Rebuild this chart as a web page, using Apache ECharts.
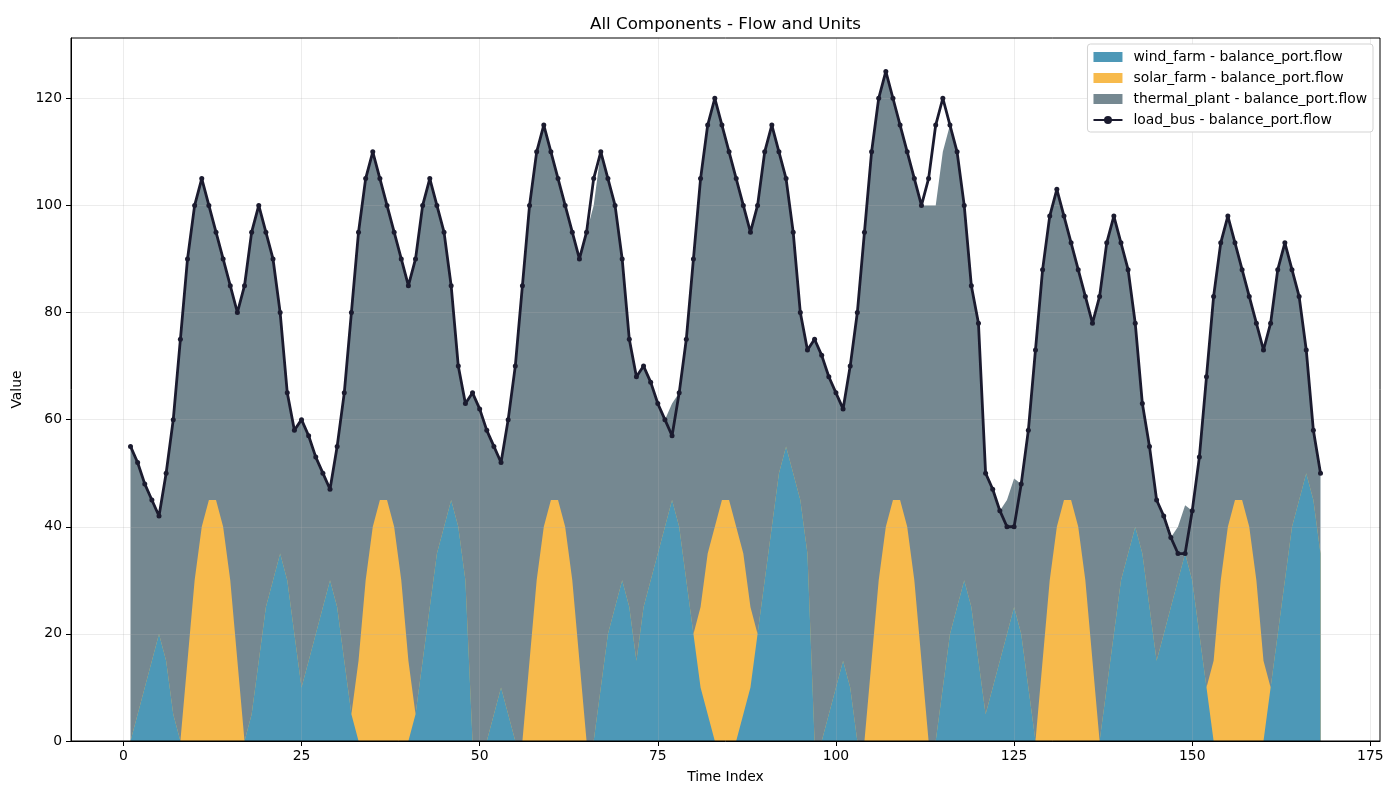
<!DOCTYPE html>
<html>
<head>
<meta charset="utf-8">
<title>All Components - Flow and Units</title>
<script src="https://cdn.jsdelivr.net/npm/echarts@6/dist/echarts.min.js"></script>
<style>
  html, body { margin: 0; padding: 0; background: #fff; }
  #chart { width: 1400px; height: 800px; }
</style>
</head>
<body>
<div id="chart"></div>
<script>
// hourly values, time index 1..168 (one row per day)
var wind = [
  0, 5, 10, 15, 20, 15, 5, 0, 0, 0, 0, 0, 0, 0, 0, 0, 0, 5, 15, 25, 30, 35, 30, 20,
  10, 15, 20, 25, 30, 25, 15, 5, 0, 0, 0, 0, 0, 0, 0, 0, 5, 15, 25, 35, 40, 45, 40, 30,
  0, 0, 0, 5, 10, 5, 0, 0, 0, 0, 0, 0, 0, 0, 0, 0, 0, 0, 10, 20, 25, 30, 25, 15,
  25, 30, 35, 40, 45, 40, 30, 20, 10, 5, 0, 0, 0, 0, 5, 10, 20, 30, 40, 50, 55, 50, 45, 35,
  0, 0, 5, 10, 15, 10, 0, 0, 0, 0, 0, 0, 0, 0, 0, 0, 0, 0, 10, 20, 25, 30, 25, 15,
  5, 10, 15, 20, 25, 20, 10, 0, 0, 0, 0, 0, 0, 0, 0, 0, 0, 10, 20, 30, 35, 40, 35, 25,
  15, 20, 25, 30, 35, 30, 20, 10, 0, 0, 0, 0, 0, 0, 0, 0, 10, 20, 30, 40, 45, 50, 45, 35
];
var solar = [
  0, 0, 0, 0, 0, 0, 0, 0, 15, 30, 40, 45, 45, 40, 30, 15, 0, 0, 0, 0, 0, 0, 0, 0,
  0, 0, 0, 0, 0, 0, 0, 0, 15, 30, 40, 45, 45, 40, 30, 15, 0, 0, 0, 0, 0, 0, 0, 0,
  0, 0, 0, 0, 0, 0, 0, 0, 15, 30, 40, 45, 45, 40, 30, 15, 0, 0, 0, 0, 0, 0, 0, 0,
  0, 0, 0, 0, 0, 0, 0, 0, 15, 30, 40, 45, 45, 40, 30, 15, 0, 0, 0, 0, 0, 0, 0, 0,
  0, 0, 0, 0, 0, 0, 0, 0, 15, 30, 40, 45, 45, 40, 30, 15, 0, 0, 0, 0, 0, 0, 0, 0,
  0, 0, 0, 0, 0, 0, 0, 0, 15, 30, 40, 45, 45, 40, 30, 15, 0, 0, 0, 0, 0, 0, 0, 0,
  0, 0, 0, 0, 0, 0, 0, 0, 15, 30, 40, 45, 45, 40, 30, 15, 0, 0, 0, 0, 0, 0, 0, 0
];
var thermal = [
  55, 47, 38, 30, 22, 35, 55, 75, 75, 70, 65, 55, 50, 50, 55, 65, 85, 90, 85, 70, 60, 45, 35, 38,
  50, 42, 33, 25, 17, 30, 50, 75, 80, 75, 70, 60, 55, 55, 60, 70, 85, 85, 80, 65, 55, 40, 30, 33,
  65, 62, 58, 50, 42, 55, 70, 85, 85, 80, 75, 65, 60, 60, 65, 75, 95, 100, 100, 85, 75, 60, 50, 53,
  45, 37, 28, 20, 18, 25, 45, 70, 80, 80, 80, 70, 65, 65, 65, 70, 80, 80, 75, 60, 50, 45, 35, 38,
  75, 72, 63, 55, 47, 60, 80, 95, 95, 90, 85, 75, 70, 70, 75, 85, 100, 100, 100, 95, 85, 70, 60, 63,
  45, 37, 28, 25, 24, 28, 48, 73, 73, 68, 63, 53, 48, 48, 53, 63, 83, 83, 78, 63, 53, 38, 28, 30,
  30, 22, 13, 10, 9, 13, 33, 58, 68, 63, 58, 48, 43, 43, 48, 58, 68, 68, 63, 48, 38, 23, 13, 15
];
var load = [
  55, 52, 48, 45, 42, 50, 60, 75, 90, 100, 105, 100, 95, 90, 85, 80, 85, 95, 100, 95, 90, 80, 65, 58,
  60, 57, 53, 50, 47, 55, 65, 80, 95, 105, 110, 105, 100, 95, 90, 85, 90, 100, 105, 100, 95, 85, 70, 63,
  65, 62, 58, 55, 52, 60, 70, 85, 100, 110, 115, 110, 105, 100, 95, 90, 95, 105, 110, 105, 100, 90, 75, 68,
  70, 67, 63, 60, 57, 65, 75, 90, 105, 115, 120, 115, 110, 105, 100, 95, 100, 110, 115, 110, 105, 95, 80, 73,
  75, 72, 68, 65, 62, 70, 80, 95, 110, 120, 125, 120, 115, 110, 105, 100, 105, 115, 120, 115, 110, 100, 85, 78,
  50, 47, 43, 40, 40, 48, 58, 73, 88, 98, 103, 98, 93, 88, 83, 78, 83, 93, 98, 93, 88, 78, 63, 55,
  45, 42, 38, 35, 35, 43, 53, 68, 83, 93, 98, 93, 88, 83, 78, 73, 78, 88, 93, 88, 83, 73, 58, 50
];
var xTicks = [0, 25, 50, 75, 100, 125, 150, 175];
var yTicks = [0, 20, 40, 60, 80, 100, 120];
var names = [
  'wind_farm - balance_port.flow',
  'solar_farm - balance_port.flow',
  'thermal_plant - balance_port.flow',
  'load_bus - balance_port.flow'
];
var colors = ['#4D98B7', '#F7BA4C', '#758891', '#1B1B2F'];

var font = 'DejaVu Sans';

function withIndex(vals) {
  return vals.map(function (v, i) { return [i + 1, v]; });
}

// stacked tops (wind, wind+solar, wind+solar+thermal); each layer is filled down to 0
// and painted over the one above it, which gives the stacked-area look
var layers = [wind, solar, thermal];
var tops = [];
var running = wind.map(function () { return 0; });
layers.forEach(function (vals) {
  running = running.map(function (s, i) { return s + vals[i]; });
  tops.push(running);
});

function areaSeries(k) {
  return {
    name: names[k],
    type: 'line',
    data: withIndex(tops[k]),
    color: colors[k],
    showSymbol: false,
    symbol: 'none',
    lineStyle: { width: 0 },
    areaStyle: { color: colors[k], opacity: 1, origin: 'start' },
    emphasis: { disabled: true },
    z: 2,
    z2: 10 - k
  };
}

var chart = echarts.init(document.getElementById('chart'));

chart.setOption({
  animation: false,
  backgroundColor: '#fff',
  textStyle: { fontFamily: font },
  title: {
    text: 'All Components - Flow and Units',
    left: 720.5,
    top: 11,
    textAlign: 'center',
    textStyle: { fontSize: 16.7, fontWeight: 'normal', color: '#000', fontFamily: font }
  },
  legend: {
    orient: 'vertical',
    right: 27,
    top: 44,
    padding: [6, 6, 5, 5],
    itemWidth: 29,
    itemHeight: 10,
    itemGap: 7,
    backgroundColor: '#fff',
    borderColor: '#d3d3d3',
    borderWidth: 1,
    borderRadius: 3,
    textStyle: { fontSize: 13.9, color: '#000', fontFamily: font, padding: [0, 0, 0, 6] },
    data: [
      { name: names[0], icon: 'rect' },
      { name: names[1], icon: 'rect' },
      { name: names[2], icon: 'rect' },
      { name: names[3] }
    ],
    z: 6
  },
  grid: {
    left: 71,
    right: 20,
    top: 38,
    bottom: 59,
    show: true,
    borderColor: '#000',
    borderWidth: 1,
    backgroundColor: 'transparent',
    z: 5
  },
  xAxis: {
    type: 'value',
    min: -7.35,
    max: 176.35,
    name: 'Time Index',
    nameLocation: 'middle',
    nameGap: 29,
    nameTextStyle: { fontSize: 13.9, color: '#000', fontFamily: font },
    axisLine: { show: true, onZero: false, lineStyle: { color: '#000', width: 1 } },
    axisTick: { show: true, length: 5, customValues: xTicks, lineStyle: { color: '#000' } },
    axisLabel: { customValues: xTicks, margin: 8, fontSize: 13.9, color: '#000', fontFamily: font },
    splitLine: { show: true, lineStyle: { color: 'rgba(176,176,176,0.3)', width: 0.8 } },
    z: 3
  },
  yAxis: {
    type: 'value',
    min: 0,
    max: 131.25,
    name: 'Value',
    nameLocation: 'middle',
    nameGap: 44,
    nameTextStyle: { fontSize: 13.9, color: '#000', fontFamily: font },
    axisLine: { show: true, onZero: false, lineStyle: { color: '#000', width: 1 } },
    axisTick: { show: true, length: 5, customValues: yTicks, lineStyle: { color: '#000' } },
    axisLabel: { customValues: yTicks, margin: 9, fontSize: 13.9, color: '#000', fontFamily: font },
    splitLine: { show: true, lineStyle: { color: 'rgba(176,176,176,0.3)', width: 0.8 } },
    z: 3
  },
  series: [
    areaSeries(2),
    areaSeries(1),
    areaSeries(0),
    {
      name: names[3],
      type: 'line',
      data: withIndex(load),
      color: colors[3],
      symbol: 'circle',
      symbolSize: 5,
      showSymbol: true,
      lineStyle: { width: 2.8, color: colors[3] },
      itemStyle: { color: colors[3] },
      emphasis: { disabled: true },
      z: 4
    }
  ]
});
</script>
</body>
</html>
